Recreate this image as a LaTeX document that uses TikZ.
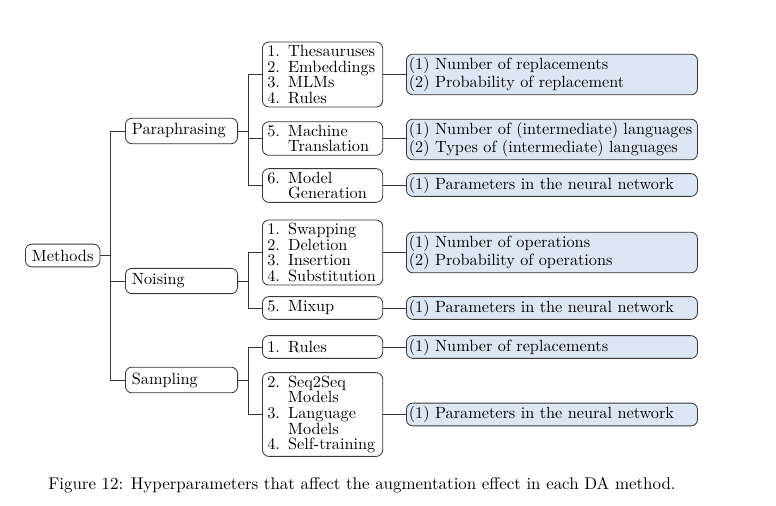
\documentclass[tikz,border=0pt]{standalone}
\usepackage{tikz}

\definecolor{hypfill}{RGB}{220,231,243}
\definecolor{edgegray}{RGB}{55,55,55}
\newcommand{\lbl}[1]{\makebox[12.8pt][l]{#1}}

\begin{document}
\begin{tikzpicture}[x=0.615pt, y=-0.615pt,
  every node/.style={font=\fontsize{10pt}{9.6pt}\selectfont},
  link/.style={draw=edgegray, line width=0.5pt},
  root/.style={draw=edgegray, line width=0.5pt, rounded corners=4pt, inner xsep=4pt, minimum height=14pt},
  cat/.style={root, text width=61pt, align=left, minimum height=14.5pt},
  sub/.style={root, text width=68pt, align=left, inner xsep=3pt, inner ysep=2pt},
  hyp/.style={root, fill=hypfill, text width=176pt, align=left, inner xsep=1.5pt, inner ysep=2pt},
  fork/.style={to path={-- ++(10.5,0) |- (\tikztotarget)}}]
\useasboundingbox (0, 0) rectangle (776, 505);

\node[root, anchor=west] (methods) at (25, 255.5) {Methods};

\node[cat, anchor=west] (para) at (125, 131) {Paraphrasing};
\node[cat, anchor=west] (noise) at (125, 281) {Noising};
\node[cat, anchor=west] (samp) at (125, 380) {Sampling};

% methods
\node[sub, anchor=west] (thes) at (262, 74.5) {\lbl{1.}Thesauruses\\\lbl{2.}Embeddings\\\lbl{3.}MLMs\\\lbl{4.}Rules};
\node[sub, anchor=west] (mt) at (262, 138.5) {\lbl{5.}Machine\\\lbl{}Translation};
\node[sub, anchor=west] (gen) at (262, 185.5) {\lbl{6.}Model\\\lbl{}Generation};
\node[sub, anchor=west] (swap) at (262, 252.5) {\lbl{1.}Swapping\\\lbl{2.}Deletion\\\lbl{3.}Insertion\\\lbl{4.}Substitution};
\node[sub, anchor=west] (mix) at (262, 308) {\lbl{5.}Mixup};
\node[sub, anchor=west] (rules) at (262, 347) {\lbl{1.}Rules};
\node[sub, anchor=west] (seq) at (262, 414.5) {\lbl{2.}Seq2Seq\\\lbl{}Models\\\lbl{3.}Language\\\lbl{}Models\\\lbl{4.}Self-training};

% hyperparameters
\node[hyp, anchor=west] (hthes) at (406, 74.5) {(1) Number of replacements\\(2) Probability of replacement};
\node[hyp, anchor=west] (hmt) at (406, 139.5) {(1) Number of (intermediate) languages\\(2) Types of (intermediate) languages};
\node[hyp, anchor=west] (hgen) at (406, 185) {(1) Parameters in the neural network};
\node[hyp, anchor=west] (hswap) at (406, 252.5) {(1) Number of operations\\(2) Probability of operations};
\node[hyp, anchor=west] (hmix) at (406, 308) {(1) Parameters in the neural network};
\node[hyp, anchor=west] (hrules) at (406, 347) {(1) Number of replacements};
\node[hyp, anchor=west] (hseq) at (406, 414.5) {(1) Parameters in the neural network};

\draw[link] (methods.east) to[fork] (para.west);
\draw[link] (methods.east) to[fork] (noise.west);
\draw[link] (methods.east) to[fork] (samp.west);

\draw[link] (para.east) to[fork] (thes.west);
\draw[link] (para.east) to[fork] (mt.west);
\draw[link] (para.east) to[fork] (gen.west);
\draw[link] (noise.east) to[fork] (swap.west);
\draw[link] (noise.east) to[fork] (mix.west);
\draw[link] (samp.east) to[fork] (rules.west);
\draw[link] (samp.east) to[fork] (seq.west);

\draw[link] (thes.east) -- (thes.east -| hthes.west);
\draw[link] (mt.east) -- (mt.east -| hmt.west);
\draw[link] (gen.east) -- (gen.east -| hgen.west);
\draw[link] (swap.east) -- (swap.east -| hswap.west);
\draw[link] (mix.east) -- (mix.east -| hmix.west);
\draw[link] (rules.east) -- (rules.east -| hrules.west);
\draw[link] (seq.east) -- (seq.east -| hseq.west);

\node[anchor=base west, inner sep=0pt, font=\fontsize{10.4pt}{12pt}\selectfont] (caption) at (48, 489) {Figure 12: Hyperparameters that affect the augmentation effect in each DA method.};
\end{tikzpicture}
\end{document}
